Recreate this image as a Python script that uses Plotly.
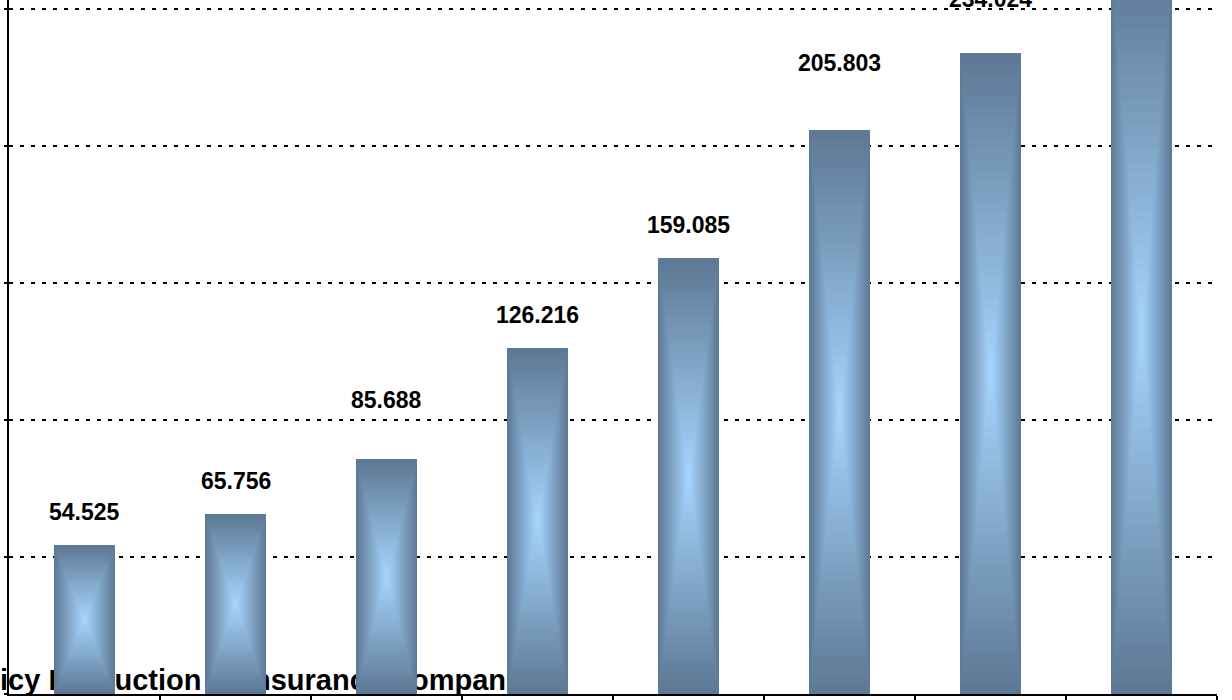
import plotly.graph_objects as go

# ---------------- data ----------------
categories = ["1", "2", "3", "4", "5", "6", "7", "8"]
values = [54.525, 65.756, 85.688, 126.216, 159.085, 205.803, 234.024, 265.0]
labels = ["54.525", "65.756", "85.688", "126.216", "159.085", "205.803", "234.024", ""]
y_ticks = [0, 50, 100, 150, 200, 250]
title_text = "Policy Production of Insurance Companies"

# ---------------- style ----------------
W, H = 1232, 700
ML, MR, MT, MB = 9, 15, 0, 6
Y_MAX = 253.28
BAR_W = 0.405
N_LAYERS = 30
DARK = (93, 121, 149)
LIGHT = (168, 214, 255)
FONT = "Liberation Sans, Arial, sans-serif"
LABEL_SHIFT = [18, 18, 44, 18, 18, 52, 39, 18]   # px above each bar top
TITLE_CENTER_X = 1.10                              # in category units
TITLE_Y = 4.0                                      # in value units

xpos = list(range(len(categories)))


def mix(t):
    return "rgb(%d,%d,%d)" % tuple(round(d + (l - d) * t) for d, l in zip(DARK, LIGHT))


fig = go.Figure()

# title text on the base subplot (drawn beneath the bars)
fig.add_trace(go.Scatter(
    x=[TITLE_CENTER_X], y=[TITLE_Y], mode="text", text=["<b>" + title_text + "</b>"],
    textposition="middle center", textfont=dict(family=FONT, size=29, color="black"),
    cliponaxis=False, hoverinfo="skip", showlegend=False,
))

# bars as concentric rectangles -> "from centre" gradient
for k in range(N_LAYERS):
    t = k / N_LAYERS
    fig.add_trace(go.Bar(
        x=xpos,
        y=[v * (1 - t) for v in values],
        base=[v * t / 2 for v in values],
        width=BAR_W * (1 - t),
        marker=dict(color=mix(t), line=dict(width=0)),
        yaxis="y2", hoverinfo="skip", showlegend=False,
    ))

for xi, v, lab, sh in zip(xpos, values, labels, LABEL_SHIFT):
    if lab:
        fig.add_annotation(
            x=xi, y=v, xref="x", yref="y", text="<b>" + lab + "</b>", showarrow=False,
            yanchor="bottom", yshift=sh, font=dict(family=FONT, size=23, color="black"),
        )

fig.update_layout(
    width=W, height=H, margin=dict(l=ML, r=MR, t=MT, b=MB),
    paper_bgcolor="white", plot_bgcolor="white", barmode="overlay", bargap=0,
    showlegend=False,
    xaxis=dict(
        range=[-0.5, len(categories) - 0.5], tickvals=[i + 0.5 for i in xpos],
        ticktext=categories, showticklabels=False, ticks="outside", ticklen=6,
        tickwidth=1.5, tickcolor="black", showline=True, linecolor="black",
        linewidth=2, showgrid=False, zeroline=False,
    ),
    yaxis=dict(
        range=[0, Y_MAX], tickvals=y_ticks, showticklabels=False, ticks="outside",
        ticklen=3, tickwidth=1.5, tickcolor="black", showline=True,
        linecolor="black", linewidth=2, showgrid=True, gridcolor="black",
        gridwidth=2, griddash="4px,7px", zeroline=False,
    ),
    yaxis2=dict(range=[0, Y_MAX], overlaying="y", visible=False),
)

fig.write_html(
    "out.html",
    config={"displayModeBar": False},
    post_script="document.body.style.margin='0px';document.body.style.overflow='hidden';",
)
